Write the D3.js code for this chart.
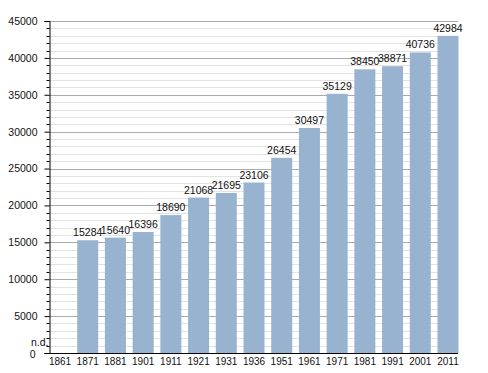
<!DOCTYPE html>
<html>
<head>
<meta charset="utf-8">
<script src="https://cdn.jsdelivr.net/npm/d3@7"></script>
<style>
  body { margin: 0; background: #fff; }
  text { font-family: "Liberation Sans", Arial, sans-serif; fill: #111; }
</style>
</head>
<body>
<svg id="chart"></svg>
<script>
var years = ["1861", "1871", "1881", "1901", "1911", "1921", "1931", "1936", "1951", "1961", "1971", "1981", "1991", "2001", "2011"];
var population = [null, 15284, 15640, 16396, 18690, 21068, 21695, 23106, 26454, 30497, 35129, 38450, 38871, 40736, 42984];
var yTicks = [0, 5000, 10000, 15000, 20000, 25000, 30000, 35000, 40000, 45000];

var width = 488, height = 373;
var margin = { top: 21, right: 30, bottom: 20, left: 49.5 };

var svg = d3.select("#chart")
  .attr("width", width)
  .attr("height", height);

var x = d3.scaleBand()
  .domain(years)
  .range([margin.left, 458.5])
  .paddingInner(0.242)
  .paddingOuter(0);

var y = d3.scaleLinear()
  .domain([0, 45000])
  .range([height - margin.bottom, margin.top]);

var gridEnd = width - margin.right;

// minor grid every 1000
var minor = d3.range(1000, 45001, 1000).filter(function (v) { return v % 5000 !== 0; });
svg.append("g").selectAll("line")
  .data(minor)
  .join("line")
  .attr("x1", margin.left)
  .attr("x2", gridEnd)
  .attr("y1", function (d) { return Math.round(y(d)) + 0.5; })
  .attr("y2", function (d) { return Math.round(y(d)) + 0.5; })
  .attr("stroke", "#e3e3e3");

// major grid
svg.append("g").selectAll("line")
  .data(yTicks.slice(1))
  .join("line")
  .attr("x1", margin.left)
  .attr("x2", gridEnd)
  .attr("y1", function (d) { return Math.round(y(d)) + 0.5; })
  .attr("y2", function (d) { return Math.round(y(d)) + 0.5; })
  .attr("stroke", "#aaaaaa");

// bars
var bars = years.map(function (yr, i) { return { year: yr, value: population[i] }; })
  .filter(function (d) { return d.value !== null; });

svg.append("g").selectAll("rect")
  .data(bars)
  .join("rect")
  .attr("x", function (d) { return x(d.year); })
  .attr("y", function (d) { return y(d.value); })
  .attr("width", x.bandwidth())
  .attr("height", function (d) { return y(0) - y(d.value); })
  .attr("fill", "#98b3cf");

svg.append("g").selectAll("text")
  .data(bars)
  .join("text")
  .attr("x", function (d) { return x(d.year) + x.bandwidth() / 2; })
  .attr("y", function (d) { return y(d.value) - 4; })
  .attr("text-anchor", "middle")
  .style("font-size", "10.5px")
  .text(function (d) { return d.value; });

// n.d. label for missing value
svg.append("text")
  .attr("x", margin.left - 1)
  .attr("y", y(0) - 7)
  .attr("text-anchor", "end")
  .style("font-size", "10.5px")
  .text("n.d.");

// y axis
var yAxis = svg.append("g")
  .attr("transform", "translate(" + margin.left + ",0)")
  .call(d3.axisLeft(y).tickValues(yTicks).tickSize(5).tickPadding(7).tickFormat(d3.format("d")));
yAxis.select(".domain").attr("stroke", "#000");
yAxis.selectAll("text").style("font-size", "10.5px");
yAxis.selectAll(".tick").filter(function (d) { return d === 0; }).select("text")
  .attr("dx", "-2px")
  .attr("dy", "0.45em");

svg.append("g")
  .attr("transform", "translate(" + margin.left + ",0)")
  .selectAll("line")
  .data(minor)
  .join("line")
  .attr("x1", -3)
  .attr("x2", 0)
  .attr("y1", function (d) { return Math.round(y(d)) + 0.5; })
  .attr("y2", function (d) { return Math.round(y(d)) + 0.5; })
  .attr("stroke", "#000");

// x axis
var xAxis = svg.append("g")
  .attr("transform", "translate(0," + (y(0) + 0.5) + ")")
  .call(d3.axisBottom(x).tickSize(0).tickPadding(4).tickSizeOuter(0));
xAxis.select(".domain").attr("stroke", "#000").attr("d", "M" + margin.left + ",0H" + gridEnd);
xAxis.selectAll("text").style("font-size", "10px");
</script>
</body>
</html>
